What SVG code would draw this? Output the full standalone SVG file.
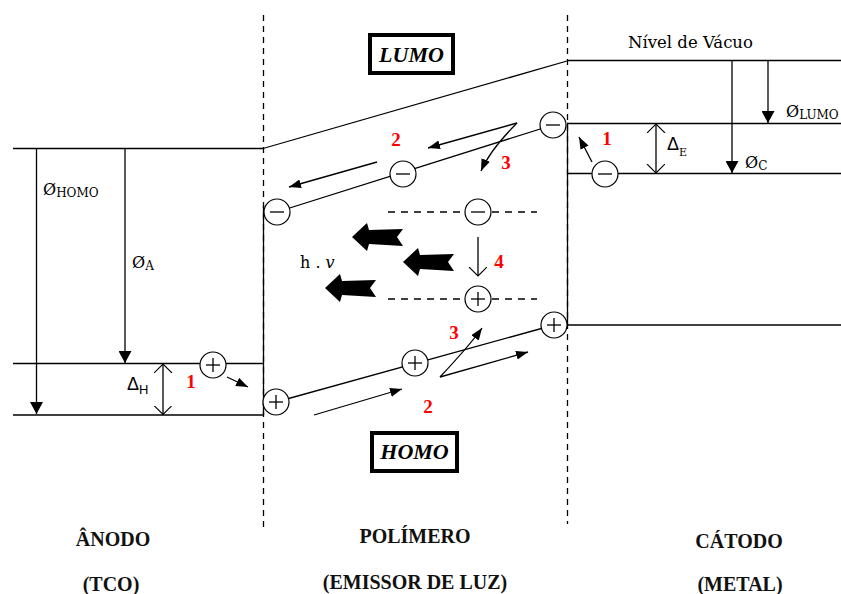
<svg xmlns="http://www.w3.org/2000/svg" xmlns:xlink="http://www.w3.org/1999/xlink" width="841" height="594" viewBox="0 0 841 594">
<style>
.ln{stroke:#000;stroke-width:1.3;fill:none}
.dash{stroke:#000;stroke-width:1.3;fill:none;stroke-dasharray:6,5}
.hdash{stroke:#000;stroke-width:1.3;fill:none;stroke-dasharray:7,6}
.chc{fill:#fff;stroke:#000;stroke-width:1.2}
.red{font-family:"Liberation Serif",serif;font-weight:bold;font-size:19px;fill:#ff0000;text-anchor:middle}
.lab{font-family:"DejaVu Serif",serif;fill:#000}
.sym{font-family:"Liberation Sans",sans-serif;fill:#000}
.bot{font-family:"Liberation Serif",serif;font-weight:bold;font-size:20px;fill:#111;text-anchor:middle}
.box{fill:#fff;stroke:#000;stroke-width:4}
.boxt{font-family:"Liberation Serif",serif;font-weight:bold;font-style:italic;font-size:22px;fill:#000;text-anchor:middle}
</style>
<defs>
<marker id="big" markerUnits="userSpaceOnUse" markerWidth="13" markerHeight="13" refX="12" refY="6.5" orient="auto"><path d="M0,0 L12,6.5 L0,13 z" fill="#000"/></marker>
<marker id="sm" markerUnits="userSpaceOnUse" markerWidth="12" markerHeight="10" refX="12" refY="4.5" orient="auto"><path d="M0,0 L12,4.5 L0,9 z" fill="#000"/></marker>
<marker id="open" markerUnits="userSpaceOnUse" markerWidth="12" markerHeight="20" refX="9" refY="9" orient="auto-start-reverse"><path d="M0,0 L9,9 L0,18" fill="none" stroke="#000" stroke-width="1.1"/></marker>
<g id="minus"><circle class="chc" r="13"/><line x1="-7" y1="0" x2="7" y2="0" stroke="#000" stroke-width="1.3"/></g>
<g id="plus"><circle class="chc" r="13"/><line x1="-7" y1="0" x2="7" y2="0" stroke="#000" stroke-width="1.3"/><line x1="0" y1="-7" x2="0" y2="7" stroke="#000" stroke-width="1.3"/></g>
<path id="blk" d="M0,0 L15,-14 L17,-7 L51,-8 L45,0 L51,9 L17,7 L15,14 z" fill="#000"/>
</defs>
<rect width="841" height="594" fill="#fff"/>

<g id="boundaries">
<line class="dash" x1="263.5" y1="15" x2="263.5" y2="528"/>
<line class="dash" x1="567.5" y1="15" x2="567.5" y2="524"/>
</g>

<g id="anode-levels">
<line class="ln" x1="13" y1="148.5" x2="263" y2="148.5"/>
<line class="ln" x1="13" y1="363.5" x2="263" y2="363.5"/>
<line class="ln" x1="13" y1="415" x2="263" y2="415"/>
<line class="ln" x1="263.5" y1="205" x2="263.5" y2="415"/>
</g>

<g id="polymer-levels">
<line class="ln" x1="263" y1="148.5" x2="567" y2="61"/>
<line class="ln" x1="277" y1="212" x2="553" y2="125"/>
<line class="ln" x1="276" y1="402" x2="554" y2="325"/>
<line class="hdash" x1="388" y1="212" x2="537" y2="212"/>
<line class="hdash" x1="388" y1="299" x2="537" y2="299"/>
</g>

<g id="cathode-levels">
<line class="ln" x1="567" y1="60.5" x2="841" y2="60.5"/>
<line class="ln" x1="567" y1="123.5" x2="841" y2="123.5"/>
<line class="ln" x1="567" y1="173.5" x2="841" y2="173.5"/>
<line class="ln" x1="567" y1="325" x2="841" y2="325"/>
<line class="ln" x1="567.5" y1="123" x2="567.5" y2="325"/>
</g>

<g id="connectors">
<line class="ln" x1="36.5" y1="148.5" x2="36.5" y2="414" marker-end="url(#big)"/>
<line class="ln" x1="125" y1="148.5" x2="125" y2="363" marker-end="url(#big)"/>
<line class="ln" x1="163" y1="364" x2="163" y2="414.5" marker-start="url(#open)" marker-end="url(#open)"/>
<line class="ln" x1="768" y1="60.5" x2="768" y2="123" marker-end="url(#big)"/>
<line class="ln" x1="732" y1="60.5" x2="732" y2="173" marker-end="url(#big)"/>
<line class="ln" x1="656" y1="124" x2="656" y2="173" marker-start="url(#open)" marker-end="url(#open)"/>
<line class="ln" x1="227" y1="377" x2="248" y2="387" marker-end="url(#sm)"/>
<line class="ln" x1="592" y1="162" x2="579" y2="137" marker-end="url(#sm)"/>
<line class="ln" x1="517" y1="123" x2="428" y2="148" marker-end="url(#sm)"/>
<line class="ln" x1="377" y1="162" x2="289" y2="187" marker-end="url(#sm)"/>
<path class="ln" d="M517,123 Q490,150 481,171" marker-end="url(#sm)"/>
<line class="ln" x1="478" y1="237" x2="478" y2="276" marker-end="url(#open)"/>
<line class="ln" x1="314" y1="415" x2="402" y2="389" marker-end="url(#sm)"/>
<line class="ln" x1="440" y1="377" x2="528" y2="352" marker-end="url(#sm)"/>
<path class="ln" d="M440,377 Q470,345 482,328" marker-end="url(#sm)"/>
</g>

<g id="photons">
<use xlink:href="#blk" href="#blk" transform="translate(352,237)"/>
<use xlink:href="#blk" href="#blk" transform="translate(403,262)"/>
<use xlink:href="#blk" href="#blk" transform="translate(325,288)"/>
</g>

<g id="charges">
<use xlink:href="#plus" href="#plus" transform="translate(213,365)"/>
<use xlink:href="#minus" href="#minus" transform="translate(277,212)"/>
<use xlink:href="#minus" href="#minus" transform="translate(403,174)"/>
<use xlink:href="#minus" href="#minus" transform="translate(553,125)"/>
<use xlink:href="#minus" href="#minus" transform="translate(478,212)"/>
<use xlink:href="#plus" href="#plus" transform="translate(276,402)"/>
<use xlink:href="#plus" href="#plus" transform="translate(415,363)"/>
<use xlink:href="#plus" href="#plus" transform="translate(554,325)"/>
<use xlink:href="#plus" href="#plus" transform="translate(478,299)"/>
<use xlink:href="#minus" href="#minus" transform="translate(605,174)"/>
</g>

<g id="lumo-box">
<rect class="box" x="370" y="35" width="83" height="38"/>
<text class="boxt" x="411.5" y="62">LUMO</text>
</g>
<g id="homo-box">
<rect class="box" x="372" y="433" width="85" height="38"/>
<text class="boxt" x="414.5" y="459">HOMO</text>
</g>

<g id="labels">
<text class="lab" x="43" y="195" font-size="16">Ø<tspan font-size="12" dy="2">HOMO</tspan></text>
<text class="lab" x="132" y="268" font-size="16">Ø<tspan font-size="12" dy="2">A</tspan></text>
<text class="sym" x="127" y="390" font-size="18">Δ<tspan font-size="13" dy="4">H</tspan></text>
<text class="sym" x="667" y="150" font-size="18">Δ<tspan font-family="DejaVu Serif" font-size="11" dy="6">E</tspan></text>
<text class="lab" x="786" y="117" font-size="16">Ø<tspan font-size="12" dy="2">LUMO</tspan></text>
<text class="lab" x="745" y="168" font-size="16">Ø<tspan font-size="12" dy="2">C</tspan></text>
<text class="lab" x="628" y="48" font-size="16.5">Nível de Vácuo</text>
<text class="lab" x="300" y="268" font-size="16">h . <tspan font-style="italic">v</tspan></text>
</g>

<g id="steps">
<text class="red" x="191" y="388">1</text>
<text class="red" x="396" y="146">2</text>
<text class="red" x="506" y="169">3</text>
<text class="red" x="499" y="268">4</text>
<text class="red" x="454" y="339">3</text>
<text class="red" x="428" y="413">2</text>
<text class="red" x="607" y="145">1</text>
</g>

<g id="region-labels">
<text class="bot" x="113" y="546">ÂNODO</text>
<text class="bot" x="111" y="591">(TCO)</text>
<text class="bot" x="415" y="543">POLÍMERO</text>
<text class="bot" x="415" y="589">(EMISSOR DE LUZ)</text>
<text class="bot" x="739" y="548">CÁTODO</text>
<text class="bot" x="740" y="591">(METAL)</text>
</g>
</svg>
